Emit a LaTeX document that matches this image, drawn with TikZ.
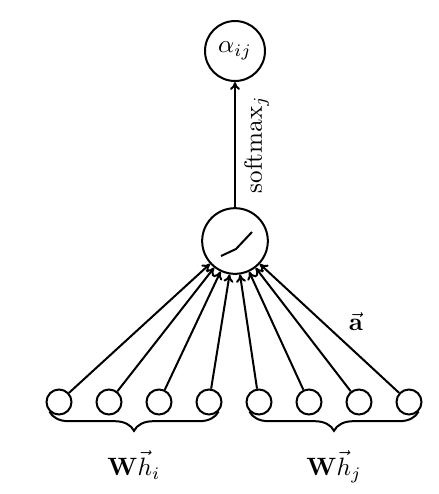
\documentclass[tikz,border=0pt]{standalone}
\usepackage{amsmath,amssymb}
\usetikzlibrary{decorations.pathreplacing,arrows.meta}

\begin{document}
\begin{tikzpicture}[x=0.014cm, y=-0.014cm,
  neurona/.style={circle, draw, thick, minimum size=#1, inner sep=0pt},
  flecha/.style={-{To[length=1.1mm, width=1.4mm]}, thick},
  llave/.style={decorate, decoration={brace, mirror, amplitude=0.27cm}, thick},
]
  \useasboundingbox (0,0) rectangle (439,494);
  % Neuronas de atencion y salida
  \node[neurona=0.92cm] (act) at (235,241) {};
  \node[neurona=0.84cm] (alfa) at (235,51) {$\alpha_{ij}$};
  \draw[thick] ([shift={(-14,15)}]act.center) -- ([shift={(1,8)}]act.center)
    -- ([shift={(17,-9)}]act.center);
  % Entradas
  \foreach \i in {1,...,8}
    \node[neurona=0.35cm] (x\i) at ({59+50*(\i-1)},402) {};
  \foreach \i in {1,...,7}
    \draw[flecha] (x\i) -- (act);
  \draw[flecha] (x8) -- (act) node[pos=0.31, above=1.8mm] {$\vec{\mathbf{a}}$};
  \draw[flecha] (act) -- (alfa) node[midway, sloped, below] {$\mathrm{softmax}_j$};
  % Llaves
  \draw[llave] (x1.south west) -- (x4.south east)
    node[midway, below=4.2mm] {$\mathbf{W}\vec{h}_i$};
  \draw[llave] (x5.south west) -- (x8.south east)
    node[midway, below=4.2mm] {$\mathbf{W}\vec{h}_j$};
\end{tikzpicture}
\end{document}
